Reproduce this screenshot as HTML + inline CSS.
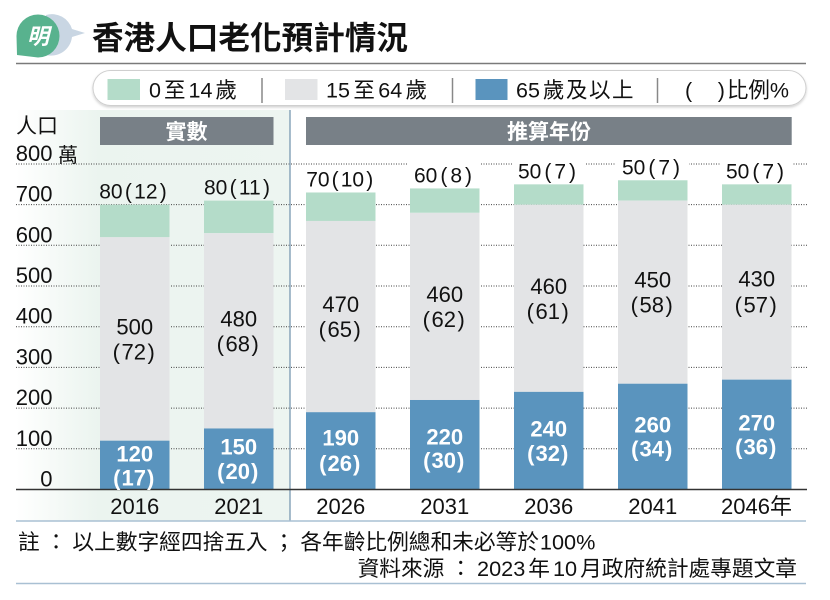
<!DOCTYPE html>
<html>
<head>
<meta charset="utf-8">
<style>
html,body{margin:0;padding:0;background:#fff;}
svg{display:block;}
text{font-family:"Liberation Sans","Noto Sans CJK TC","Noto Sans CJK SC",sans-serif;}
</style>
</head>
<body>
<svg width="830" height="600" viewBox="0 0 830 600" xmlns="http://www.w3.org/2000/svg">
<defs>
<linearGradient id="mint" x1="16" y1="0" x2="290" y2="0" gradientUnits="userSpaceOnUse">
<stop offset="0" stop-color="#ffffff"/>
<stop offset="0.3" stop-color="#ebf4ef"/>
<stop offset="1" stop-color="#edf5f1"/>
</linearGradient>
<filter id="sh" x="-5%" y="-30%" width="110%" height="160%">
<feDropShadow dx="0" dy="1.5" stdDeviation="1.2" flood-color="#000" flood-opacity="0.18"/>
</filter>
</defs>

<!-- logo -->
<path d="M46 15 A21 21 0 0 1 72 29 L85 33 L72 37 A21 21 0 0 1 46 55 Z" fill="#c9d6e3"/>
<path d="M38 14.5 A21.5 21.5 0 1 1 38 57.5 L17 55 L16.5 36 A21.5 21.5 0 0 1 38 14.5 Z" fill="#58b28e"/>
<text x="38" y="44" font-size="22" font-weight="bold" fill="#fff" text-anchor="middle" font-style="italic">明</text>

<!-- title -->
<text x="92" y="49" font-size="32" font-weight="bold" fill="#111" textLength="316" lengthAdjust="spacingAndGlyphs">香港人口老化預計情況</text>
<line x1="16" y1="63.5" x2="806" y2="63.5" stroke="#7a7a7a" stroke-width="1.5"/>

<!-- legend -->
<rect x="93" y="70.5" width="713" height="35" rx="17.5" fill="#fff" stroke="#cfcfcf" stroke-width="1" filter="url(#sh)"/>
<rect x="107.5" y="79" width="32.5" height="21" fill="#b4dcc9"/>
<text x="149" y="97.5" font-size="21.5" fill="#111">0<tspan dx="3">至</tspan><tspan dx="3">14</tspan><tspan dx="3">歲</tspan></text>
<line x1="262" y1="78" x2="262" y2="103" stroke="#888" stroke-width="1.5"/>
<rect x="285" y="79" width="32.5" height="21" fill="#e3e4e6"/>
<text x="326" y="97.5" font-size="21.5" fill="#111">15<tspan dx="3.4">至</tspan><tspan dx="3.4">64</tspan><tspan dx="3.4">歲</tspan></text>
<line x1="452.5" y1="78" x2="452.5" y2="103" stroke="#888" stroke-width="1.5"/>
<rect x="475.5" y="79" width="32" height="21" fill="#5a94be"/>
<text x="516" y="97.5" font-size="21.5" fill="#111">65<tspan dx="3">歲</tspan><tspan dx="1.5">及</tspan><tspan dx="1.5">以</tspan><tspan dx="1.5">上</tspan></text>
<line x1="657.5" y1="78" x2="657.5" y2="103" stroke="#888" stroke-width="1.5"/>
<text x="685" y="97.5" font-size="21.5" fill="#111">(<tspan dx="2">　</tspan><tspan dx="2">)</tspan><tspan dx="2">比例</tspan>%</text>

<!-- mint background for actual -->
<rect x="16" y="110" width="274" height="411" fill="url(#mint)"/>

<!-- header boxes -->
<rect x="100" y="117" width="173.5" height="28" fill="#788087"/>
<text x="186.5" y="139" font-size="21" font-weight="bold" fill="#fff" text-anchor="middle">實數</text>
<rect x="306" y="117" width="485.7" height="28" fill="#788087"/>
<text x="549" y="139" font-size="21" font-weight="bold" fill="#fff" text-anchor="middle">推算年份</text>

<!-- y axis label -->
<text x="16" y="133" font-size="21" fill="#111">人口</text>

<!-- gridlines -->
<g stroke="#444" stroke-width="1" stroke-dasharray="1 1.5">
<line x1="16" y1="164" x2="807" y2="164"/>
<line x1="16" y1="204.6" x2="807" y2="204.6"/>
<line x1="16" y1="245.3" x2="807" y2="245.3"/>
<line x1="16" y1="286" x2="807" y2="286"/>
<line x1="16" y1="326.7" x2="807" y2="326.7"/>
<line x1="16" y1="367.4" x2="807" y2="367.4"/>
<line x1="16" y1="408.1" x2="807" y2="408.1"/>
<line x1="16" y1="448.8" x2="807" y2="448.8"/>
</g>

<!-- y tick labels -->
<g font-size="22" fill="#111" text-anchor="end">
<text x="52.5" y="161">800</text>
<text x="52.5" y="201.6">700</text>
<text x="52.5" y="242.3">600</text>
<text x="52.5" y="283">500</text>
<text x="52.5" y="323.7">400</text>
<text x="52.5" y="364.4">300</text>
<text x="52.5" y="405.1">200</text>
<text x="52.5" y="445.8">100</text>
<text x="52.5" y="486.5">0</text>
</g>
<text x="58" y="162" font-size="20" fill="#111">萬</text>

<!-- separator -->
<line x1="290" y1="110" x2="290" y2="521" stroke="#8aa5bb" stroke-width="1.5"/>

<!-- white backgrounds for top labels over gridline -->
<g fill="#fff">
<rect x="408" y="162" width="73" height="22"/>
<rect x="512" y="158" width="73" height="22"/>
<rect x="616" y="154" width="73" height="22"/>
<rect x="720" y="158" width="73" height="22"/>
</g>

<!-- bars -->
<g>
<rect x="100" y="204.68" width="69.5" height="32.55" fill="#b4dcc9"/>
<rect x="100" y="237.23" width="69.5" height="203.44" fill="#e3e4e6"/>
<rect x="100" y="440.67" width="69.5" height="48.83" fill="#5a94be"/>

<rect x="204" y="200.62" width="69.5" height="32.55" fill="#b4dcc9"/>
<rect x="204" y="233.17" width="69.5" height="195.3" fill="#e3e4e6"/>
<rect x="204" y="428.47" width="69.5" height="61.03" fill="#5a94be"/>

<rect x="306" y="192.48" width="69.5" height="28.48" fill="#b4dcc9"/>
<rect x="306" y="220.96" width="69.5" height="191.23" fill="#e3e4e6"/>
<rect x="306" y="412.19" width="69.5" height="77.31" fill="#5a94be"/>

<rect x="410" y="188.42" width="69.5" height="24.41" fill="#b4dcc9"/>
<rect x="410" y="212.83" width="69.5" height="187.16" fill="#e3e4e6"/>
<rect x="410" y="399.99" width="69.5" height="89.51" fill="#5a94be"/>

<rect x="514" y="184.35" width="69.5" height="20.34" fill="#b4dcc9"/>
<rect x="514" y="204.69" width="69.5" height="187.16" fill="#e3e4e6"/>
<rect x="514" y="391.85" width="69.5" height="97.65" fill="#5a94be"/>

<rect x="618" y="180.27" width="69.5" height="20.34" fill="#b4dcc9"/>
<rect x="618" y="200.61" width="69.5" height="183.1" fill="#e3e4e6"/>
<rect x="618" y="383.71" width="69.5" height="105.79" fill="#5a94be"/>

<rect x="722" y="184.34" width="69.5" height="20.34" fill="#b4dcc9"/>
<rect x="722" y="204.68" width="69.5" height="174.96" fill="#e3e4e6"/>
<rect x="722" y="379.64" width="69.5" height="109.86" fill="#5a94be"/>
</g>

<!-- baseline -->
<line x1="16" y1="489.5" x2="807" y2="489.5" stroke="#333" stroke-width="1.6"/>

<!-- top labels -->
<g font-size="21" fill="#111" text-anchor="middle">
<text x="133" y="198.7">80<tspan dx="2.3">(</tspan><tspan dx="2.3">12</tspan><tspan dx="2.3">)</tspan></text>
<text x="237" y="194.6">80<tspan dx="2.3">(</tspan><tspan dx="2.3">11</tspan><tspan dx="2.3">)</tspan></text>
<text x="339.7" y="186.5">70<tspan dx="2.1">(</tspan><tspan dx="2.1">10</tspan><tspan dx="2.1">)</tspan></text>
<text x="443" y="182.4">60<tspan dx="3">(</tspan><tspan dx="3">8</tspan><tspan dx="3">)</tspan></text>
<text x="547" y="178.3">50<tspan dx="3">(</tspan><tspan dx="3">7</tspan><tspan dx="3">)</tspan></text>
<text x="651" y="174.3">50<tspan dx="3">(</tspan><tspan dx="3">7</tspan><tspan dx="3">)</tspan></text>
<text x="755" y="178.3">50<tspan dx="3">(</tspan><tspan dx="3">7</tspan><tspan dx="3">)</tspan></text>
</g>

<!-- middle labels -->
<g font-size="22" fill="#111" text-anchor="middle">
<text x="134.75" y="334.5">500</text>
<text x="133.75" y="359.5">(<tspan dx="1.5">72</tspan><tspan dx="1.5">)</tspan></text>
<text x="238.75" y="326.3">480</text>
<text x="237.75" y="351.3">(<tspan dx="1.5">68</tspan><tspan dx="1.5">)</tspan></text>
<text x="340.75" y="312.1">470</text>
<text x="339.75" y="337.1">(<tspan dx="1.5">65</tspan><tspan dx="1.5">)</tspan></text>
<text x="444.75" y="301.9">460</text>
<text x="443.75" y="326.9">(<tspan dx="1.5">62</tspan><tspan dx="1.5">)</tspan></text>
<text x="548.75" y="293.8">460</text>
<text x="547.75" y="318.8">(<tspan dx="1.5">61</tspan><tspan dx="1.5">)</tspan></text>
<text x="652.75" y="287.7">450</text>
<text x="651.75" y="312.7">(<tspan dx="1.5">58</tspan><tspan dx="1.5">)</tspan></text>
<text x="756.75" y="286.5">430</text>
<text x="755.75" y="312.5">(<tspan dx="1.5">57</tspan><tspan dx="1.5">)</tspan></text>
</g>

<!-- blue labels -->
<g font-size="22" font-weight="bold" fill="#fff" text-anchor="middle">
<text x="134.75" y="461.5">120</text>
<text x="133.75" y="485.5">(<tspan dx="1">17</tspan><tspan dx="1">)</tspan></text>
<text x="238.75" y="454.7">150</text>
<text x="237.75" y="479.2">(<tspan dx="1">20</tspan><tspan dx="1">)</tspan></text>
<text x="340.75" y="445.3">190</text>
<text x="339.75" y="471">(<tspan dx="1">26</tspan><tspan dx="1">)</tspan></text>
<text x="444.75" y="444.5">220</text>
<text x="443.75" y="468">(<tspan dx="1">30</tspan><tspan dx="1">)</tspan></text>
<text x="548.75" y="436.7">240</text>
<text x="547.75" y="461">(<tspan dx="1">32</tspan><tspan dx="1">)</tspan></text>
<text x="652.75" y="432.3">260</text>
<text x="651.75" y="456.3">(<tspan dx="1">34</tspan><tspan dx="1">)</tspan></text>
<text x="756.75" y="430.3">270</text>
<text x="755.75" y="454.7">(<tspan dx="1">36</tspan><tspan dx="1">)</tspan></text>
</g>

<!-- year labels -->
<g font-size="22" fill="#111" text-anchor="middle">
<text x="134.75" y="514">2016</text>
<text x="238.75" y="514">2021</text>
<text x="340.75" y="514">2026</text>
<text x="444.75" y="514">2031</text>
<text x="548.75" y="514">2036</text>
<text x="652.75" y="514">2041</text>
<text x="756.5" y="514">2046年</text>
</g>

<!-- bottom lines -->
<line x1="16" y1="521" x2="806" y2="521" stroke="#a9c0d3" stroke-width="1.5"/>
<line x1="16" y1="583.5" x2="806" y2="583.5" stroke="#a9c0d3" stroke-width="1.5"/>

<!-- notes -->
<text x="18" y="549.5" font-size="21.7" fill="#111">註<tspan dx="5.5">：</tspan><tspan dx="5.5">以上數字經四捨五入</tspan><tspan dx="5.5">；</tspan><tspan dx="5.5">各年齡比例總和未必等於</tspan><tspan dx="1">100%</tspan></text>
<text x="797" y="576" font-size="21.7" fill="#111" text-anchor="end">資料來源<tspan dx="5.5">：</tspan><tspan dx="5.5">2023</tspan><tspan dx="3">年</tspan><tspan dx="3">10</tspan><tspan dx="3">月政府統計處專題文章</tspan></text>
</svg>
</body>
</html>
